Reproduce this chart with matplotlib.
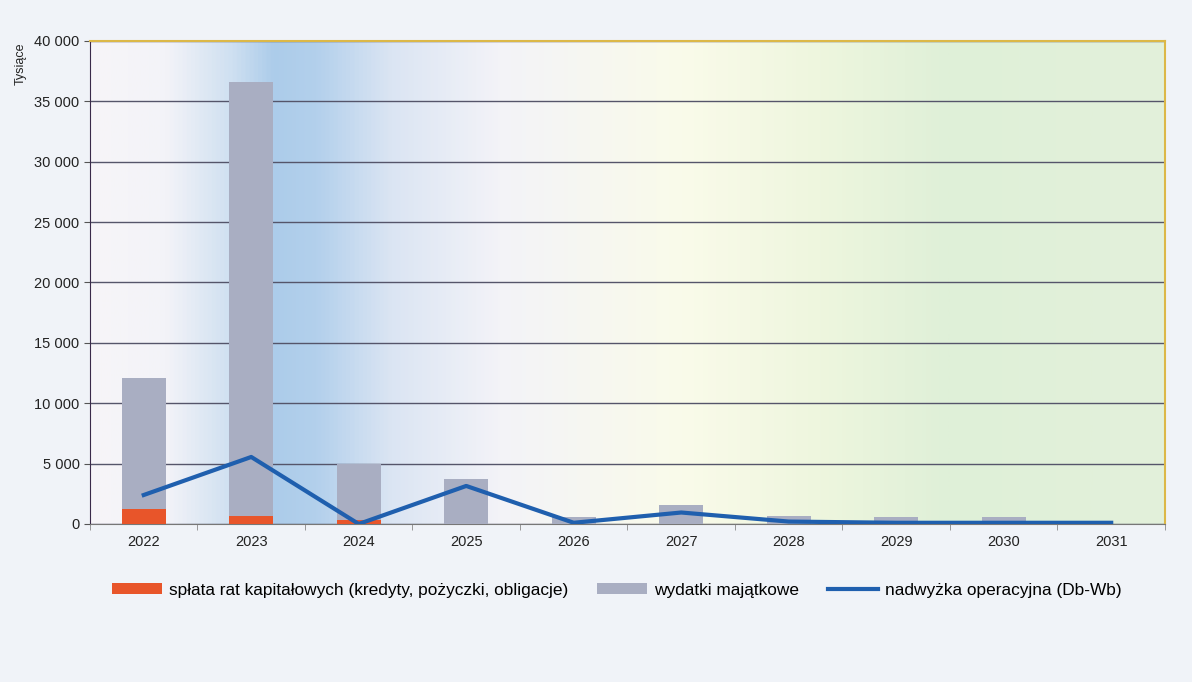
import matplotlib.pyplot as plt
import numpy as np
from matplotlib.colors import LinearSegmentedColormap
from matplotlib.ticker import FuncFormatter

plt.rcParams['font.family'] = ['Liberation Sans', 'DejaVu Sans']

years = ['2022', '2023', '2024', '2025', '2026', '2027', '2028', '2029', '2030', '2031']
splata = [1250, 650, 300, 0, 0, 0, 0, 0, 0, 0]
wydatki = [10850, 35950, 4650, 3700, 600, 1600, 650, 600, 600, 0]
nadwyzka = [2400, 5550, 0, 3150, 100, 950, 200, 100, 100, 100]

fig = plt.figure(figsize=(11.92, 6.82), dpi=100)
fig.patch.set_facecolor('#f0f3f8')
ax = fig.add_axes([0.0755, 0.2317, 0.9018, 0.7082])

# background gradient
bg = LinearSegmentedColormap.from_list('bg', [
    (0.0, '#f7f5f8'), (0.07, '#f3f3f8'), (0.13, '#cfe0f1'), (0.17, '#acccea'),
    (0.21, '#b3d0ec'), (0.28, '#dbe5f3'), (0.38, '#f3f3f8'), (0.55, '#fafbea'),
    (0.68, '#eef6de'), (0.80, '#dff0d8'), (1.0, '#e3f1db')])
ax.imshow(np.linspace(0, 1, 512)[None, :], cmap=bg, aspect='auto',
          extent=(0, 1, 0, 1), transform=ax.transAxes, zorder=0)

x = np.arange(len(years))
b1 = ax.bar(x, splata, width=0.41, color='#e8552a', zorder=3,
            label='spłata rat kapitałowych (kredyty, pożyczki, obligacje)')
b2 = ax.bar(x, wydatki, width=0.41, bottom=splata, color='#a9aec2', zorder=3,
            label='wydatki majątkowe')
ln, = ax.plot(x, nadwyzka, color='#1f5fae', linewidth=3, zorder=4,
              label='nadwyżka operacyjna (Db-Wb)')

ax.set_xlim(-0.5, len(years) - 0.5)
ax.set_ylim(0, 40000)
ax.set_yticks(np.arange(0, 40001, 5000))
ax.yaxis.set_major_formatter(FuncFormatter(lambda v, p: f'{int(v):,}'.replace(',', ' ')))
ax.set_xticks(x)
ax.set_xticklabels(years)
ax.set_xticks(np.arange(-0.5, len(years), 1), minor=True)
ax.tick_params(axis='x', which='major', length=0, labelsize=10.5, pad=8, colors='#222222')
ax.tick_params(axis='x', which='minor', length=4, color='#888888')
ax.tick_params(axis='y', length=4, labelsize=10.5, colors='#222222', color='#555555')
ax.grid(axis='y', color='#55556a', linewidth=1, zorder=1)
ax.set_axisbelow(True)

for side in ['top', 'right']:
    ax.spines[side].set_color('#dcb848')
    ax.spines[side].set_linewidth(1.5)
ax.spines['left'].set_color('#3a2a4a')
ax.spines['bottom'].set_color('#777777')

fig.text(0.012, 0.875, 'Tysiące', rotation=90, fontsize=9, color='#222222', ha='left', va='bottom')

ax.legend([b1, b2, ln], [b1.get_label(), b2.get_label(), ln.get_label()],
          loc='upper center', bbox_to_anchor=(0.49, -0.09), ncol=3, frameon=False,
          fontsize=12.4, handlelength=2.9, handleheight=0.6, handletextpad=0.4,
          columnspacing=1.7)

fig.savefig('out.png', dpi=100, facecolor=fig.get_facecolor())
